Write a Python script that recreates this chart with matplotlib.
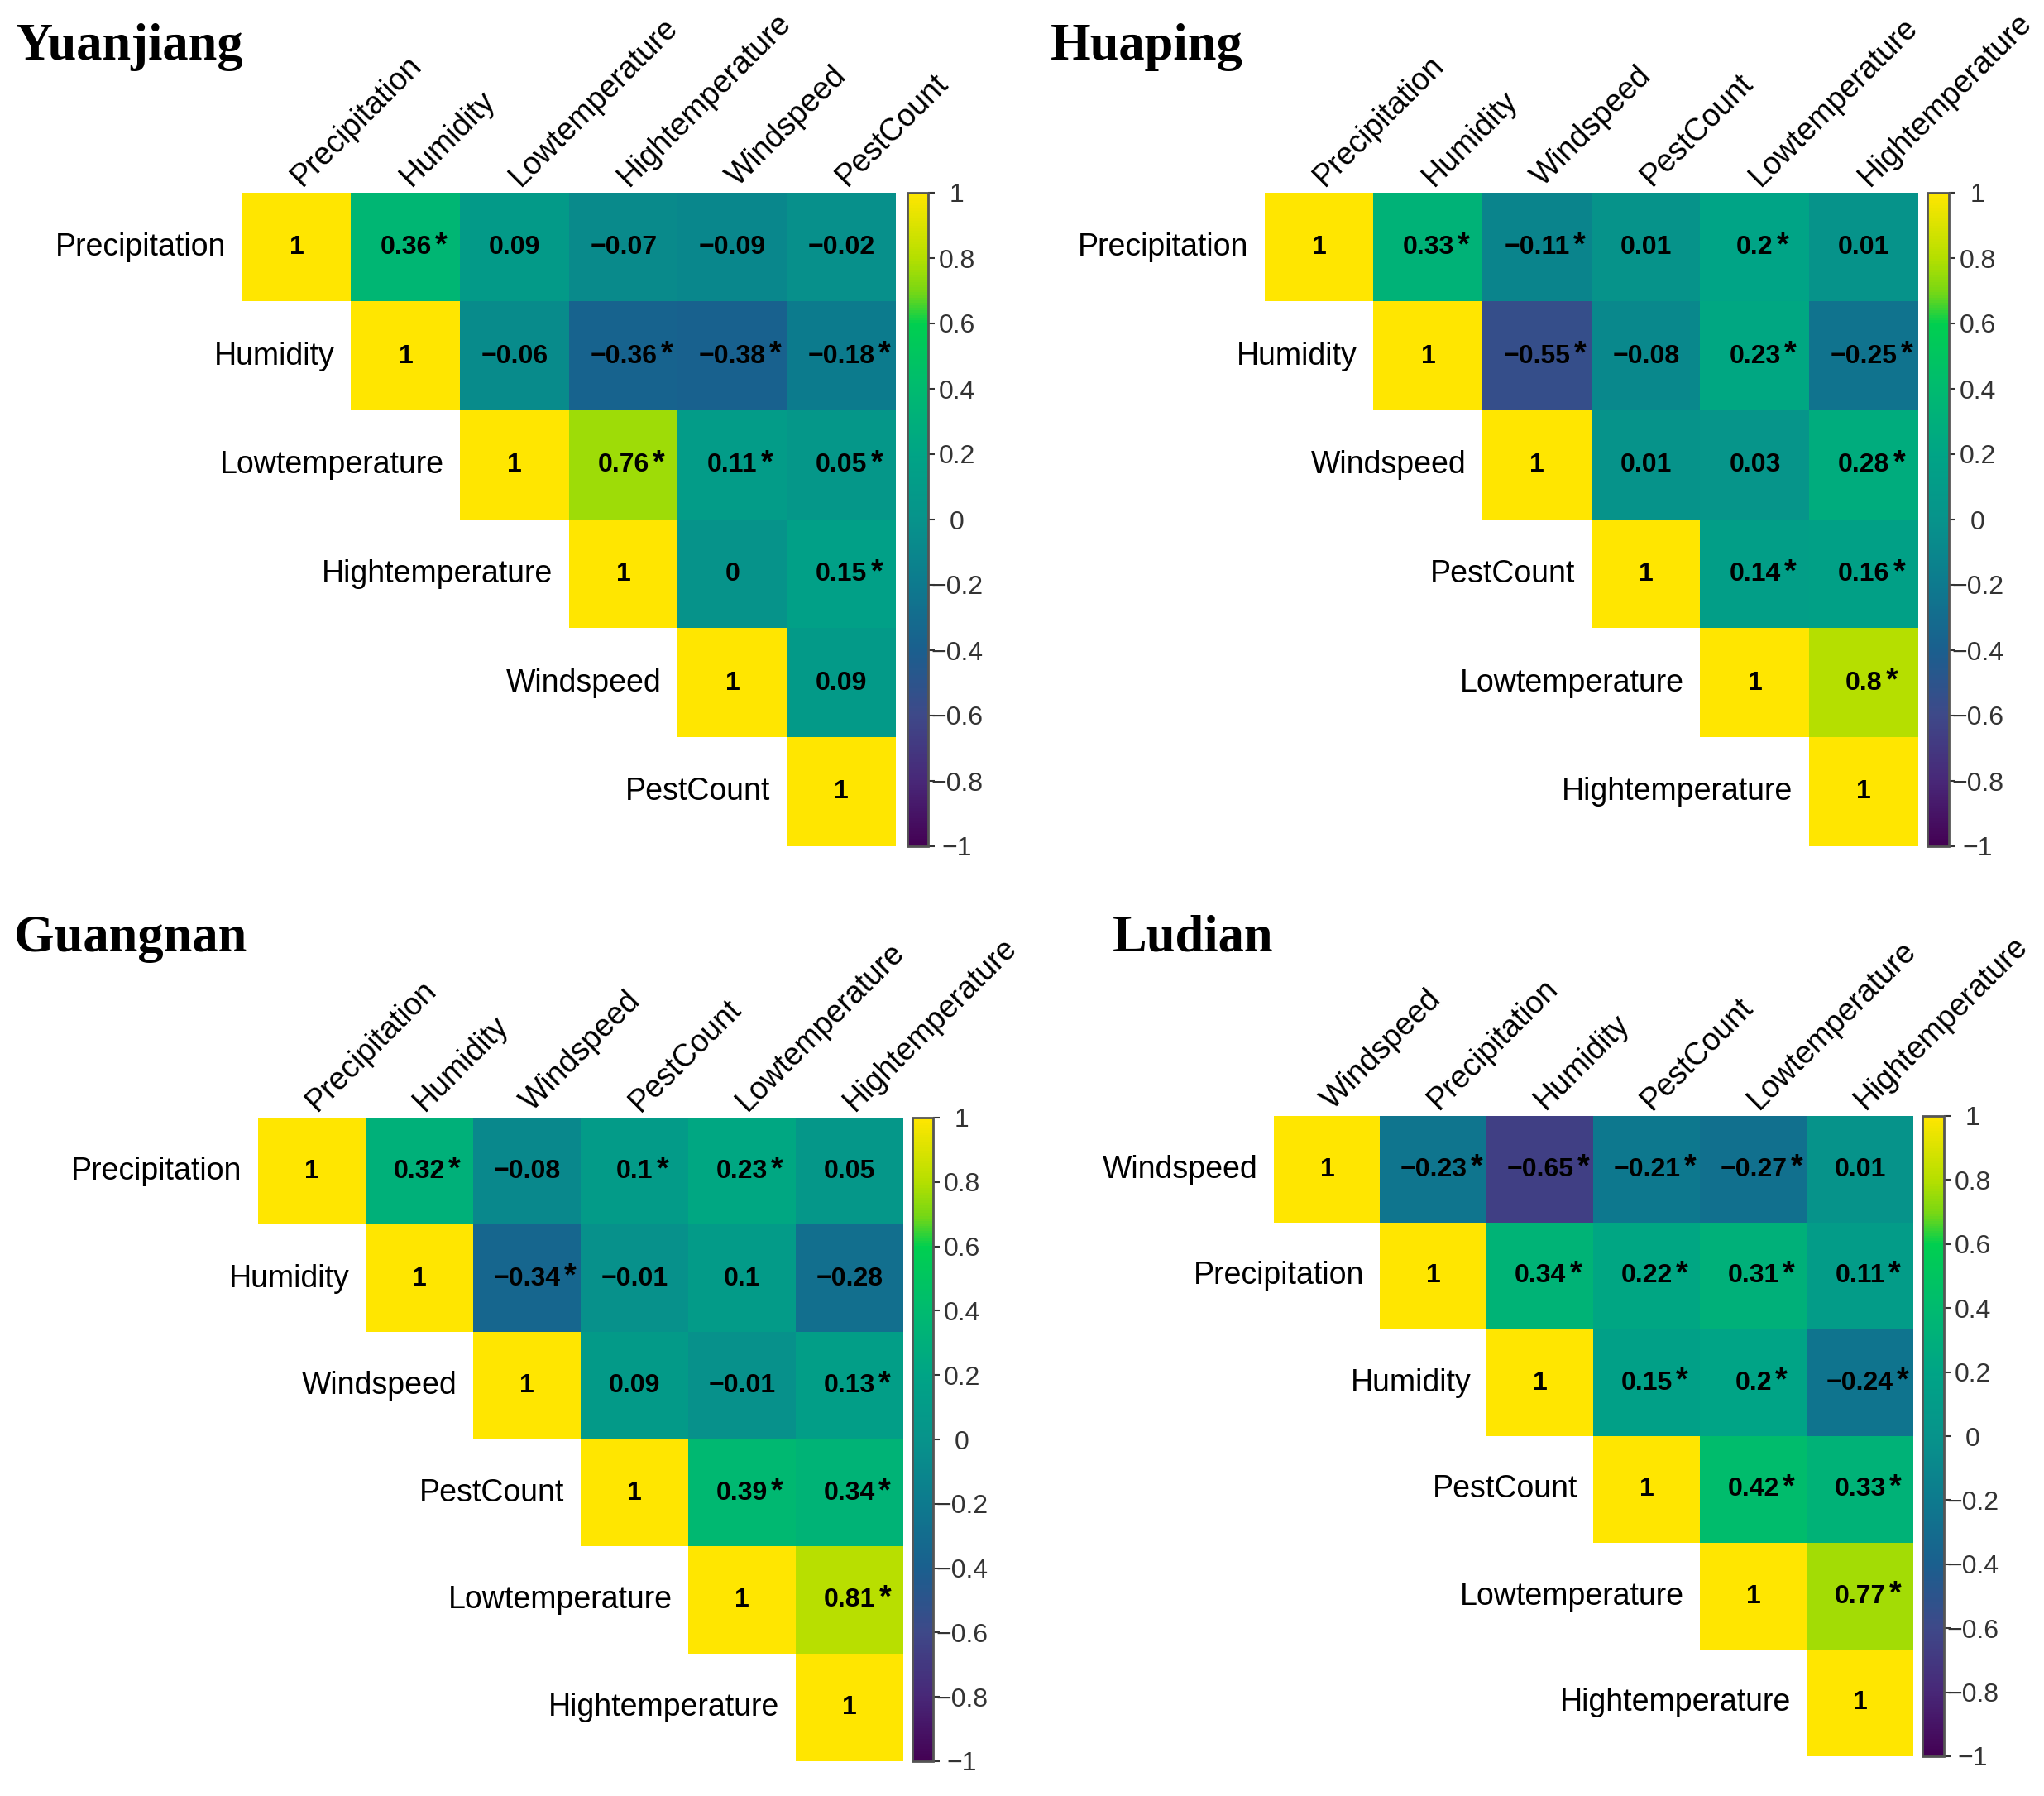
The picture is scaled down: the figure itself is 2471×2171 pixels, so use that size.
import numpy as np
import matplotlib
matplotlib.use('Agg')
import matplotlib.pyplot as plt
from matplotlib.colors import LinearSegmentedColormap

plt.rcParams['font.family'] = ['Liberation Sans', 'DejaVu Sans']

W, H = 2471, 2171

# ---- data: upper triangle of each correlation matrix, row by row ----
yj_vars = ['Precipitation', 'Humidity', 'Lowtemperature', 'Hightemperature', 'Windspeed', 'PestCount']
yj_r = [[1, 0.36, 0.09, -0.07, -0.09, -0.02],
        [1, -0.06, -0.36, -0.38, -0.18],
        [1, 0.76, 0.11, 0.05],
        [1, 0, 0.15],
        [1, 0.09],
        [1]]
yj_sig = [[0, 1, 0, 0, 0, 0],
          [0, 0, 1, 1, 1],
          [0, 1, 1, 1],
          [0, 0, 1],
          [0, 0],
          [0]]

hp_vars = ['Precipitation', 'Humidity', 'Windspeed', 'PestCount', 'Lowtemperature', 'Hightemperature']
hp_r = [[1, 0.33, -0.11, 0.01, 0.2, 0.01],
        [1, -0.55, -0.08, 0.23, -0.25],
        [1, 0.01, 0.03, 0.28],
        [1, 0.14, 0.16],
        [1, 0.8],
        [1]]
hp_sig = [[0, 1, 1, 0, 1, 0],
          [0, 1, 0, 1, 1],
          [0, 0, 0, 1],
          [0, 1, 1],
          [0, 1],
          [0]]

gn_vars = ['Precipitation', 'Humidity', 'Windspeed', 'PestCount', 'Lowtemperature', 'Hightemperature']
gn_r = [[1, 0.32, -0.08, 0.1, 0.23, 0.05],
        [1, -0.34, -0.01, 0.1, -0.28],
        [1, 0.09, -0.01, 0.13],
        [1, 0.39, 0.34],
        [1, 0.81],
        [1]]
gn_sig = [[0, 1, 0, 1, 1, 0],
          [0, 1, 0, 0, 0],
          [0, 0, 0, 1],
          [0, 1, 1],
          [0, 1],
          [0]]

ld_vars = ['Windspeed', 'Precipitation', 'Humidity', 'PestCount', 'Lowtemperature', 'Hightemperature']
ld_r = [[1, -0.23, -0.65, -0.21, -0.27, 0.01],
        [1, 0.34, 0.22, 0.31, 0.11],
        [1, 0.15, 0.2, -0.24],
        [1, 0.42, 0.33],
        [1, 0.77],
        [1]]
ld_sig = [[0, 1, 1, 1, 1, 0],
          [0, 1, 1, 1, 1],
          [0, 1, 1, 1],
          [0, 1, 1],
          [0, 1],
          [0]]

# colour scale (-1 .. 1)
cmap = LinearSegmentedColormap.from_list('corr', [
    (0.00, '#440154'), (0.10, '#482878'), (0.20, '#3E4989'),
    (0.30, '#1A5F8E'), (0.40, '#0D7A8E'), (0.50, '#07938B'),
    (0.60, '#00A486'), (0.70, '#00BA70'), (0.80, '#00CF50'),
    (0.85, '#78D714'), (0.90, '#B4DF00'), (1.00, '#FFE600')])


def fmt(v):
    return ('%g' % v).replace('-', '\u2212')


def px_axes(fig, x0, y0, x1, y1):
    return fig.add_axes([x0 / W, 1 - y1 / H, (x1 - x0) / W, (y1 - y0) / H])


def corr_panel(fig, title, names, rows, sig, grid, cbar, title_xy):
    n = len(names)
    m = np.full((n, n), np.nan)
    s = np.zeros((n, n), dtype=bool)
    for i in range(n):
        m[i, i:] = rows[i]
        s[i, i:] = sig[i]
    m = np.ma.masked_invalid(m)

    ax = px_axes(fig, *grid)
    im = ax.imshow(m, cmap=cmap, vmin=-1, vmax=1, aspect='auto', interpolation='nearest')
    ax.set_xlim(-0.5, n - 0.5)
    ax.set_ylim(n - 0.5, -0.5)
    ax.set_axis_off()

    for i in range(n):
        for j in range(i, n):
            t = ax.text(j, i, fmt(m[i, j]), ha='center', va='center',
                        fontsize=23, fontweight='bold', color='black')
            if s[i, j]:
                ax.annotate('*', xy=(1, 0), xycoords=t, xytext=(3, -1),
                            textcoords='offset points', ha='left', va='bottom',
                            fontsize=27, fontweight='bold', color='black')
        # row label on the left of the diagonal cell
        ax.text(i - 0.5 - 0.15, i, names[i], ha='right', va='center',
                fontsize=27, color='black')
        # column label above
        ax.text(i + 0.05, -0.5 - 0.05, names[i], ha='left', va='baseline',
                rotation=45, rotation_mode='anchor', fontsize=27, color='black')

    cax = px_axes(fig, *cbar)
    cb = fig.colorbar(im, cax=cax, ticks=np.linspace(-1, 1, 11))
    cb.set_ticklabels([fmt(round(v, 1)) for v in np.linspace(-1, 1, 11)])
    cb.outline.set_edgecolor('#555555')
    cb.outline.set_linewidth(2)
    cax.tick_params(length=6, width=1.5, color='#333333', labelsize=23,
                    labelcolor='#333333', pad=19)
    for lab in cax.get_yticklabels():
        lab.set_horizontalalignment('center')

    fig.text(title_xy[0] / W, 1 - title_xy[1] / H, title, ha='left', va='baseline',
             family='Liberation Serif', fontweight='bold', fontsize=45)


fig = plt.figure(figsize=(W / 100, H / 100), dpi=100)

corr_panel(fig, 'Yuanjiang', yj_vars, yj_r, yj_sig,
           (293, 233, 1083, 1023), (1097, 233, 1122, 1023), (19, 72))
corr_panel(fig, 'Huaping', hp_vars, hp_r, hp_sig,
           (1529, 233, 2319, 1023), (2330, 233, 2356, 1023), (1270, 72))
corr_panel(fig, 'Guangnan', gn_vars, gn_r, gn_sig,
           (312, 1351, 1092, 2129), (1103, 1351, 1128, 2129), (17, 1150))
corr_panel(fig, 'Ludian', ld_vars, ld_r, ld_sig,
           (1540, 1349, 2313, 2123), (2324, 1349, 2350, 2123), (1345, 1149))

fig.savefig('out.png', dpi=100, facecolor='white')
